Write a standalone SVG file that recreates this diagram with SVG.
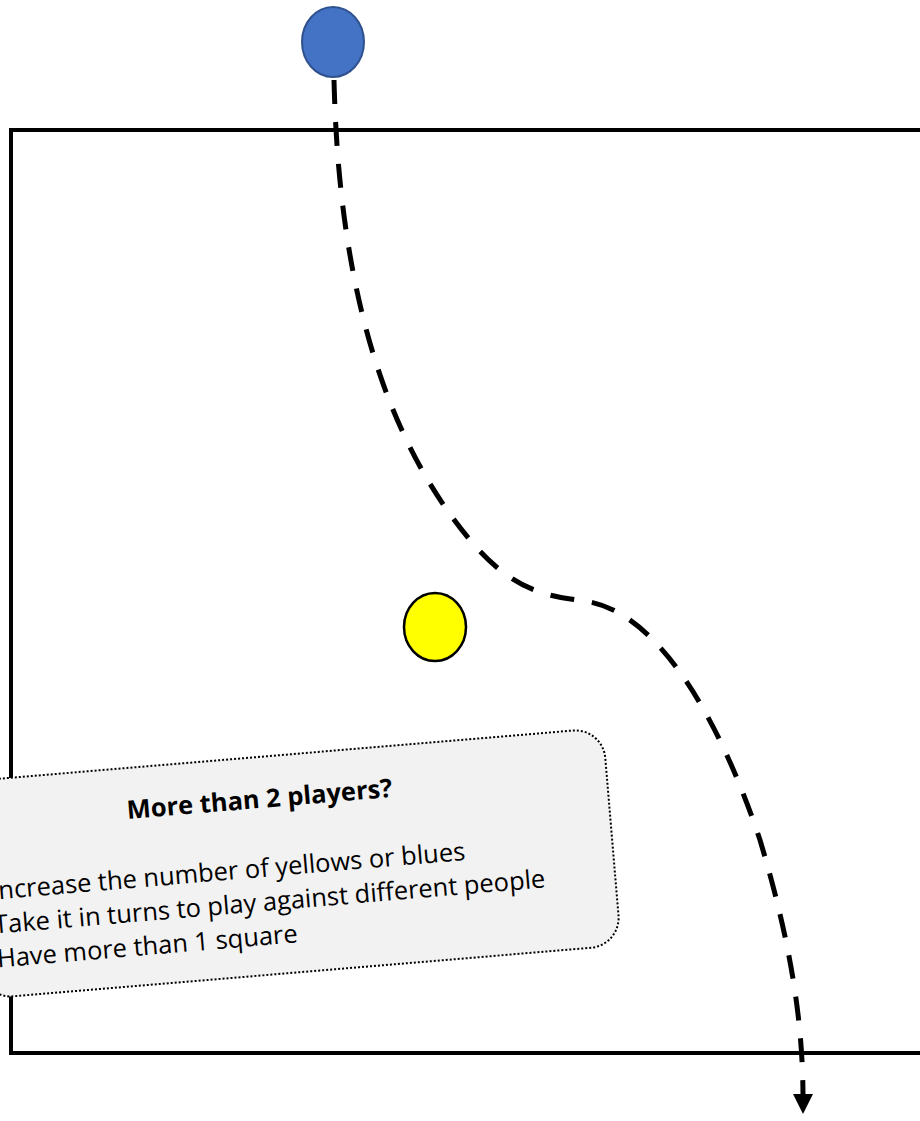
<svg xmlns="http://www.w3.org/2000/svg" width="920" height="1121" viewBox="0 0 920 1121">
<defs>
<style>
.field{fill:none;stroke:#000;stroke-width:4}
.path{fill:none;stroke:#000;stroke-width:5;stroke-dasharray:24 18}
.note{fill:#F2F2F2;stroke:#000;stroke-width:2;stroke-dasharray:2 2}
.t{font-family:"Open Sans","Liberation Sans",sans-serif;font-size:25.5px;fill:#000}
.tb{font-weight:bold;text-anchor:middle}
</style>
<marker id="arr" viewBox="0 0 10 10" refX="2" refY="5" markerWidth="4" markerHeight="4" orient="auto" markerUnits="strokeWidth">
<path d="M0,0 L10,5 L0,10 z" fill="#000"/>
</marker>
</defs>
<rect id="field" class="field" x="11" y="130" width="1000" height="923"/>
<g id="connectors">
<path class="path" d="M334,80 C338,250 370,420 470,540 C520,600 560,596 590,602 C660,616 720,720 760,840 C790,940 803,1020 803,1098" marker-end="url(#arr)"/>
</g>
<g id="blue">
<ellipse cx="333" cy="42" rx="31" ry="35" fill="#4472C4" stroke="#2F528F" stroke-width="2"/>
</g>
<g id="yellow">
<ellipse cx="435" cy="627" rx="31" ry="34" fill="#FFFF00" stroke="#000" stroke-width="2.5"/>
</g>
<g id="note" transform="translate(298,863) rotate(-4.8)">
<rect class="note" x="-325" y="-109" width="640" height="218" rx="30"/>
<text class="t tb" x="-33" y="-58">More than 2 players?</text>
<text class="t" x="-308" y="11">Increase the number of yellows or blues</text>
<text class="t" x="-308" y="45">Take it in turns to play against different people</text>
<text class="t" x="-308" y="79">Have more than 1 square</text>
</g>
</svg>
